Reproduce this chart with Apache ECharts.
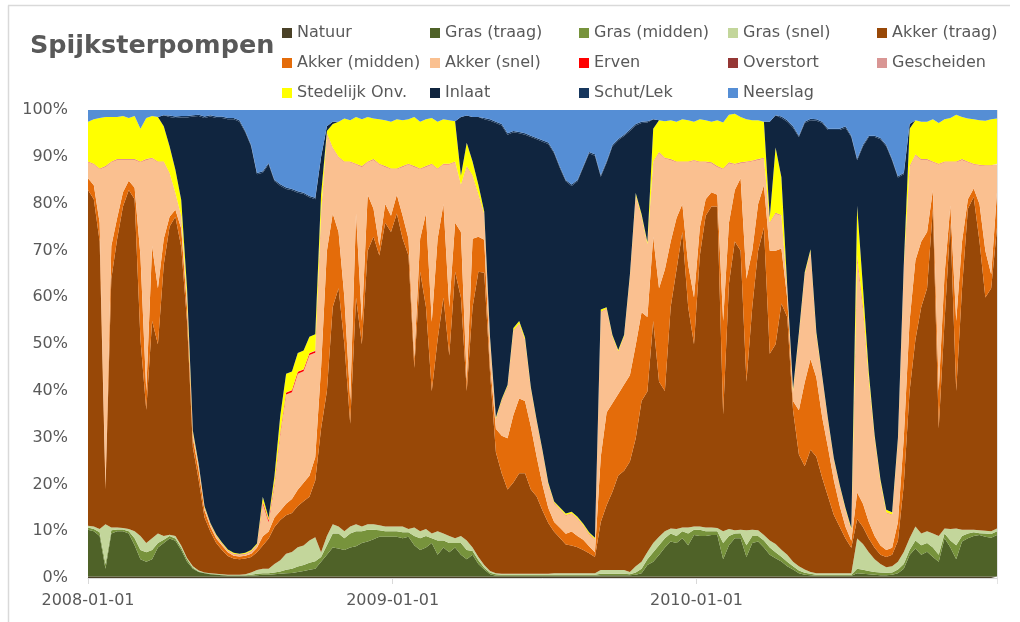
<!DOCTYPE html>
<html>
<head>
<meta charset="utf-8">
<title>Spijksterpompen</title>
<script src="https://cdn.jsdelivr.net/npm/echarts@6/dist/echarts.min.js"></script>
<style>
  html, body { margin: 0; padding: 0; background: #ffffff; }
  #chart { width: 1020px; height: 622px; }
</style>
</head>
<body>
<div id="chart"></div>
<script>
// Weekly shares of the pumped water per origin (percent of total), from 2008-01-01.
const startDate = '2008-01-01';
const stepDays = 7;

const natuur = [
  0.3, 0.3, 0.3, 0.3, 0.3, 0.3, 0.3, 0.3, 0.3, 0.3,
  0.3, 0.3, 0.3, 0.3, 0.3, 0.3, 0.3, 0.3, 0.3, 0.3,
  0.3, 0.3, 0.3, 0.3, 0.3, 0.3, 0.3, 0.3, 0.3, 0.3,
  0.3, 0.3, 0.3, 0.3, 0.3, 0.3, 0.3, 0.3, 0.3, 0.3,
  0.3, 0.3, 0.3, 0.3, 0.3, 0.3, 0.3, 0.3, 0.3, 0.3,
  0.3, 0.3, 0.3, 0.3, 0.3, 0.3, 0.3, 0.3, 0.3, 0.3,
  0.3, 0.3, 0.3, 0.3, 0.3, 0.3, 0.3, 0.3, 0.3, 0.3,
  0.3, 0.3, 0.3, 0.3, 0.3, 0.3, 0.3, 0.3, 0.3, 0.3,
  0.3, 0.3, 0.3, 0.3, 0.3, 0.3, 0.3, 0.3, 0.3, 0.3,
  0.3, 0.3, 0.3, 0.3, 0.3, 0.3, 0.3, 0.3, 0.3, 0.3,
  0.3, 0.3, 0.3, 0.3, 0.3, 0.3, 0.3, 0.3, 0.3, 0.3,
  0.3, 0.3, 0.3, 0.3, 0.3, 0.3, 0.3, 0.3, 0.3, 0.3,
  0.3, 0.3, 0.3, 0.3, 0.3, 0.3, 0.3, 0.3, 0.3, 0.3,
  0.3, 0.3, 0.3, 0.3, 0.3, 0.3, 0.3, 0.3, 0.3, 0.3,
  0.3, 0.3, 0.3, 0.3, 0.3, 0.3, 0.3, 0.3, 0.3, 0.3,
  0.3, 0.3, 0.3, 0.3, 0.3, 0.3, 0.3
];

const grasTraag = [
  10.0, 9.7, 8.7, 1.7, 9.2, 9.7, 9.7, 9.2, 6.7, 3.7,
  3.2, 3.7, 6.2, 7.2, 8.2, 7.7, 5.7, 3.2, 1.7, 1.0,
  0.7, 0.5, 0.4, 0.3, 0.2, 0.2, 0.2, 0.2, 0.2, 0.3,
  0.4, 0.4, 0.5, 0.6, 0.7, 0.8, 1.0, 1.2, 1.5, 1.7,
  3.2, 4.7, 6.2, 6.0, 5.7, 6.2, 6.5, 7.2, 7.5, 8.0,
  8.5, 8.5, 8.5, 8.5, 8.2, 8.5, 6.7, 5.7, 6.2, 7.2,
  4.7, 6.2, 5.2, 6.2, 4.7, 3.7, 4.7, 2.7, 1.5, 0.5,
  0.2, 0.2, 0.2, 0.2, 0.2, 0.2, 0.2, 0.2, 0.2, 0.2,
  0.2, 0.2, 0.2, 0.2, 0.2, 0.2, 0.2, 0.2, 0.3, 0.3,
  0.3, 0.3, 0.3, 0.3, 0.4, 0.7, 2.5, 3.2, 4.6, 6.2,
  7.5, 7.2, 8.2, 6.7, 8.9, 8.7, 8.7, 8.9, 8.9, 3.7,
  6.7, 8.2, 8.2, 4.2, 7.2, 7.5, 6.2, 4.7, 3.9, 3.2,
  2.2, 1.5, 0.7, 0.4, 0.3, 0.2, 0.2, 0.2, 0.2, 0.2,
  0.2, 0.2, 0.7, 0.6, 0.5, 0.4, 0.3, 0.3, 0.4, 0.7,
  1.7, 4.6, 6.0, 4.7, 5.3, 4.2, 3.2, 8.2, 6.2, 3.7,
  7.5, 8.2, 8.7, 8.9, 8.5, 8.3, 8.9
];

const grasMidden = [
  0.5, 0.5, 0.8, 1.0, 0.7, 0.4, 0.4, 0.5, 1.5, 2.0,
  2.0, 2.0, 1.0, 0.7, 0.5, 0.5, 0.5, 0.5, 0.2, 0.1,
  0.1, 0.1, 0.1, 0.1, 0.1, 0.1, 0.1, 0.1, 0.2, 0.3,
  0.3, 0.3, 0.4, 0.5, 0.8, 0.9, 1.2, 1.3, 1.5, 1.6,
  1.0, 2.0, 3.0, 3.2, 2.5, 3.0, 3.2, 2.5, 2.5, 2.0,
  1.4, 1.2, 1.2, 1.2, 1.3, 1.0, 2.0, 2.5, 2.5, 1.0,
  3.0, 1.5, 2.0, 1.0, 2.5, 2.0, 0.8, 0.8, 0.4, 0.3,
  0.3, 0.2, 0.2, 0.2, 0.2, 0.2, 0.2, 0.2, 0.2, 0.2,
  0.2, 0.2, 0.2, 0.2, 0.2, 0.2, 0.2, 0.2, 0.3, 0.3,
  0.3, 0.3, 0.3, 0.2, 0.5, 1.0, 1.2, 2.0, 2.1, 2.0,
  1.7, 1.5, 1.5, 2.5, 1.1, 1.3, 1.0, 0.8, 0.8, 3.5,
  2.0, 1.0, 1.1, 2.5, 1.5, 1.2, 1.5, 1.5, 1.3, 1.0,
  1.0, 0.7, 0.6, 0.4, 0.3, 0.2, 0.2, 0.2, 0.2, 0.2,
  0.2, 0.2, 1.0, 0.9, 0.7, 0.6, 0.6, 0.5, 0.5, 0.8,
  1.0, 1.1, 1.7, 2.0, 1.9, 2.0, 1.5, 1.0, 1.5, 3.0,
  1.2, 1.0, 0.8, 0.4, 0.7, 0.8, 0.8
];

const grasSnel = [
  0.4, 0.5, 0.7, 8.5, 0.6, 0.4, 0.3, 0.5, 1.5, 3.0,
  2.0, 2.5, 2.0, 0.8, 0.3, 0.5, 0.5, 0.3, 0.3, 0.2,
  0.1, 0.1, 0.1, 0.1, 0.1, 0.1, 0.1, 0.2, 0.5, 0.8,
  1.0, 1.0, 1.8, 2.4, 3.4, 3.6, 4.1, 4.2, 4.8, 5.2,
  1.0, 2.0, 2.0, 1.5, 1.5, 1.5, 1.5, 1.0, 1.2, 1.2,
  1.1, 1.0, 1.0, 1.0, 1.2, 0.7, 1.8, 1.5, 1.5, 1.0,
  2.0, 1.5, 1.5, 1.0, 1.5, 2.0, 0.7, 0.7, 0.6, 0.4,
  0.2, 0.2, 0.2, 0.2, 0.2, 0.2, 0.2, 0.2, 0.2, 0.2,
  0.3, 0.3, 0.3, 0.3, 0.3, 0.3, 0.3, 0.3, 0.8, 0.8,
  0.8, 0.8, 0.8, 0.5, 1.3, 1.5, 1.6, 2.0, 1.8, 1.5,
  1.1, 1.5, 0.8, 1.3, 0.7, 0.7, 0.8, 0.8, 0.7, 2.5,
  1.5, 0.7, 0.7, 3.2, 1.3, 1.2, 1.2, 1.5, 1.8, 1.5,
  1.5, 1.0, 0.9, 0.7, 0.4, 0.3, 0.3, 0.3, 0.3, 0.3,
  0.3, 0.3, 6.5, 5.5, 4.0, 2.7, 1.8, 1.2, 1.3, 1.7,
  2.6, 2.5, 3.0, 2.5, 2.5, 3.0, 4.0, 1.1, 2.5, 3.6,
  1.3, 0.8, 0.5, 0.6, 0.6, 0.6, 0.6
];

const akkerTraag = [
  71.8, 70, 61.5, 7.5, 53.2, 61.7, 68.8, 72.5, 71, 42,
  28.5, 46.5, 40.5, 58, 66.1, 68.5, 64, 50.7, 25.5, 19.4,
  11.8, 9, 6.6, 5.2, 4.0, 3.5, 3.3, 3.4, 3.3, 3.8,
  5, 6.5, 8, 8.7, 8.3, 8.4, 8.9, 9.5, 9.4, 12.2,
  26.5, 31, 46.5, 51, 40, 22, 48.5, 39, 58.5, 61.5,
  57.7, 65, 63, 67, 61.6, 58.5, 34.2, 55.5, 47.5, 30.5,
  41, 50.5, 38.6, 57, 51, 32, 51.5, 61, 62.7, 42.5,
  26, 21.6, 18.1, 19.6, 21.6, 21.6, 18.1, 16.6, 13.6, 10.9,
  8.9, 7.6, 6.2, 6, 5.6, 5, 4.3, 3.5, 10.3, 13.9,
  16.8, 20.3, 21.3, 23.7, 27.5, 34.5, 34.4, 47.5, 33.2, 30,
  47.4, 55.5, 63.2, 47.2, 39, 58, 66.7, 68.7, 68.8, 25,
  52.5, 61.8, 59.7, 31.8, 47.7, 59.8, 65.8, 40, 42.7, 52.3,
  51, 32.5, 24, 22.2, 26.2, 25, 20.5, 16.5, 12.5, 10,
  7.5, 5.5, 4.2, 3.7, 3, 2.5, 2, 2.2, 2.5, 4.5,
  14.4, 31.5, 40, 48.5, 52, 69.5, 23, 44.4, 65.5, 29.4,
  51.7, 68.7, 71.2, 61.8, 49.9, 52, 64.4
];

const akkerMidden = [
  2.5, 3, 4, 1, 7, 4.5, 3, 2, 2.5, 18,
  4, 16, 12, 5.6, 2.1, 1.5, 4, 3, 2, 2,
  1.5, 1, 1, 1, 0.8, 0.6, 0.6, 0.6, 0.7, 1,
  2, 1.5, 2, 2, 2.5, 3, 3.5, 4, 4.5, 5,
  13, 30, 20, 12, 10, 5, 18, 5, 12, 6,
  2, 4, 3.5, 4, 4.9, 3.6, 2, 7.1, 20, 14.8,
  21.6, 20, 10.4, 10.5, 14, 2, 14.6, 7.5, 7.1, 2,
  5, 8, 11, 14.5, 16, 15.5, 13.5, 8.5, 5.5, 3.2,
  2.1, 2.2, 2.3, 3, 2.4, 2.2, 1.5, 1, 14, 19.9,
  19, 17.5, 18.5, 18.5, 20, 19, 16, 18, 20, 26,
  14, 11, 6, 9, 10, 6, 3.5, 3, 2.5, 20,
  13, 11, 15.5, 22, 12, 10, 9, 22, 20, 11.7,
  4, 2, 9.5, 18, 19.5, 17, 13, 10.5, 7.5, 4.5,
  2.5, 1.5, 5.7, 5, 3.5, 2.5, 2, 1.5, 1.5, 4,
  10, 15, 17, 14, 12, 4, 8, 10, 3.7, 15,
  10, 2, 1.8, 8, 10, 3, 7.5
];

const akkerSnel = [
  3.5, 4.5, 11.5, 68, 18, 12.5, 7, 4.5, 6, 20,
  49.5, 18.8, 27, 16.4, 9.3, 3.5, 2.5, 2, 1, 1,
  0.5, 0.5, 0.5, 0.3, 0.3, 0.3, 0.3, 0.3, 0.4, 0.5,
  7, 2, 7, 16.5, 23.5, 23, 25, 24, 26, 22.5,
  33, 25, 14, 16, 29, 51, 10.5, 33, 7, 10.5,
  17.5, 8, 10, 5.5, 10.5, 15.9, 41, 14.9, 10, 33.7,
  14.9, 8.5, 30.5, 13, 10, 46, 13.4, 9, 5.4, 5,
  2, 7.5, 11, 18, 16, 13, 8, 7.5, 7, 5,
  4, 3.9, 3.9, 3.8, 3.7, 3, 2.6, 2.7, 31, 22.2,
  14.2, 9, 10.2, 21.2, 32, 20.5, 15.5, 16, 29, 23.8,
  17.5, 12, 9, 22, 29.3, 14, 8, 6.3, 6, 32.5,
  12.8, 5.5, 3.3, 25, 19.2, 9.5, 5.8, 6, 8, 7,
  2, 2, 16, 23, 23, 9, 8.5, 5.7, 4.3, 4.1,
  3.6, 2.3, 50.6, 42, 30.5, 21, 13.5, 8, 7, 17.5,
  36.5, 33, 22.5, 17.5, 15.5, 6, 48.5, 24, 9.3, 34,
  17.5, 8, 5.2, 8.3, 18.2, 23.2, 6
];

const erven = [
  0.05, 0.05, 0.05, 0.05, 0.05, 0.05, 0.05, 0.05, 0.05, 0.05,
  0.05, 0.05, 0.05, 0.05, 0.05, 0.05, 0.05, 0.05, 0.05, 0.05,
  0.05, 0.05, 0.05, 0.05, 0.05, 0.05, 0.05, 0.05, 0.05, 0.05,
  0.4, 0.4, 0.4, 0.4, 0.4, 0.4, 0.4, 0.4, 0.4, 0.4,
  0.05, 0.05, 0.05, 0.05, 0.05, 0.05, 0.05, 0.05, 0.05, 0.05,
  0.05, 0.05, 0.05, 0.05, 0.05, 0.05, 0.05, 0.05, 0.05, 0.05,
  0.05, 0.05, 0.05, 0.05, 0.05, 0.05, 0.05, 0.05, 0.05, 0.05,
  0.05, 0.05, 0.05, 0.05, 0.05, 0.05, 0.05, 0.05, 0.05, 0.05,
  0.05, 0.05, 0.05, 0.05, 0.05, 0.05, 0.05, 0.05, 0.05, 0.05,
  0.05, 0.05, 0.05, 0.05, 0.05, 0.05, 0.05, 0.05, 0.05, 0.05,
  0.05, 0.05, 0.05, 0.05, 0.05, 0.05, 0.05, 0.05, 0.05, 0.05,
  0.05, 0.05, 0.05, 0.05, 0.05, 0.05, 0.05, 0.05, 0.05, 0.05,
  0.05, 0.05, 0.05, 0.05, 0.05, 0.05, 0.05, 0.05, 0.05, 0.05,
  0.05, 0.05, 0.4, 0.4, 0.05, 0.05, 0.05, 0.05, 0.05, 0.05,
  0.05, 0.05, 0.05, 0.05, 0.05, 0.05, 0.05, 0.05, 0.05, 0.05,
  0.05, 0.05, 0.05, 0.05, 0.05, 0.05, 0.05
];

const overstort = [
  0.02, 0.02, 0.02, 0.02, 0.02, 0.02, 0.02, 0.02, 0.02, 0.02,
  0.02, 0.02, 0.02, 0.02, 0.02, 0.02, 0.02, 0.02, 0.02, 0.02,
  0.02, 0.02, 0.02, 0.02, 0.02, 0.02, 0.02, 0.02, 0.02, 0.02,
  0.02, 0.02, 0.02, 0.02, 0.02, 0.02, 0.02, 0.02, 0.02, 0.02,
  0.02, 0.02, 0.02, 0.02, 0.02, 0.02, 0.02, 0.02, 0.02, 0.02,
  0.02, 0.02, 0.02, 0.02, 0.02, 0.02, 0.02, 0.02, 0.02, 0.02,
  0.02, 0.02, 0.02, 0.02, 0.02, 0.02, 0.02, 0.02, 0.02, 0.02,
  0.02, 0.02, 0.02, 0.02, 0.02, 0.02, 0.02, 0.02, 0.02, 0.02,
  0.02, 0.02, 0.02, 0.02, 0.02, 0.02, 0.02, 0.02, 0.02, 0.02,
  0.02, 0.02, 0.02, 0.02, 0.02, 0.02, 0.02, 0.02, 0.02, 0.02,
  0.02, 0.02, 0.02, 0.02, 0.02, 0.02, 0.02, 0.02, 0.02, 0.02,
  0.02, 0.02, 0.02, 0.02, 0.02, 0.02, 0.02, 0.02, 0.02, 0.02,
  0.02, 0.02, 0.02, 0.02, 0.02, 0.02, 0.02, 0.02, 0.02, 0.02,
  0.02, 0.02, 0.02, 0.02, 0.02, 0.02, 0.02, 0.02, 0.02, 0.02,
  0.02, 0.02, 0.02, 0.02, 0.02, 0.02, 0.02, 0.02, 0.02, 0.02,
  0.02, 0.02, 0.02, 0.02, 0.02, 0.02, 0.02
];

const gescheiden = [
  0.05, 0.05, 0.05, 0.05, 0.05, 0.05, 0.05, 0.05, 0.05, 0.05,
  0.05, 0.05, 0.05, 0.05, 0.05, 0.05, 0.05, 0.05, 0.05, 0.05,
  0.05, 0.05, 0.05, 0.05, 0.05, 0.05, 0.05, 0.05, 0.05, 0.05,
  0.05, 0.05, 0.05, 0.05, 0.05, 0.05, 0.05, 0.05, 0.05, 0.05,
  0.05, 0.05, 0.05, 0.05, 0.05, 0.05, 0.05, 0.05, 0.05, 0.05,
  0.05, 0.05, 0.05, 0.05, 0.05, 0.05, 0.05, 0.05, 0.05, 0.05,
  0.05, 0.05, 0.05, 0.05, 0.05, 0.05, 0.05, 0.05, 0.05, 0.05,
  0.05, 0.05, 0.05, 0.05, 0.05, 0.05, 0.05, 0.05, 0.05, 0.05,
  0.05, 0.05, 0.05, 0.05, 0.05, 0.05, 0.05, 0.05, 0.05, 0.05,
  0.05, 0.05, 0.05, 0.05, 0.05, 0.05, 0.05, 0.05, 0.05, 0.05,
  0.05, 0.05, 0.05, 0.05, 0.05, 0.05, 0.05, 0.05, 0.05, 0.05,
  0.05, 0.05, 0.05, 0.05, 0.05, 0.05, 0.05, 0.05, 0.05, 0.05,
  0.05, 0.05, 0.05, 0.05, 0.05, 0.05, 0.05, 0.05, 0.05, 0.05,
  0.05, 0.05, 0.05, 0.05, 0.05, 0.05, 0.05, 0.05, 0.05, 0.05,
  0.05, 0.05, 0.05, 0.05, 0.05, 0.05, 0.05, 0.05, 0.05, 0.05,
  0.05, 0.05, 0.05, 0.05, 0.05, 0.05, 0.05
];

const stedelijkOnv = [
  8.5, 9.5, 10.8, 10.5, 9.5, 9, 9.2, 8.8, 9.2, 7,
  8.8, 8.9, 9.5, 7.5, 5.7, 5, 3.5, 2, 0.5, 0.3,
  0.3, 0.2, 0.2, 0.2, 0.2, 0.2, 0.2, 0.2, 0.3, 0.3,
  1, 0.5, 1.5, 3.5, 4, 4, 4, 4, 3.5, 3.5,
  4, 0.5, 5, 7.5, 9.2, 8.8, 10, 10, 9.5, 8.7,
  9.5, 9.8, 10, 10.5, 9.8, 9.5, 10.5, 10, 10, 9.8,
  10, 9.5, 9.3, 8.6, 2, 5, 3, 2, 0.5, 0.5,
  0.3, 0.3, 0.3, 0.5, 0.5, 0.5, 0.3, 0.3, 0.3, 0.3,
  0.3, 0.3, 0.3, 0.3, 0.3, 0.3, 0.3, 0.3, 0.5, 0.3,
  0.3, 0.3, 0.3, 0.3, 0.5, 0.5, 0.5, 7, 6.8, 7.8,
  8.3, 8.5, 9, 8.8, 8.2, 9, 8.8, 8.7, 9.8, 9.8,
  10.2, 10.7, 9.7, 9, 8.6, 8.3, 7.7, 1, 14, 8,
  0.5, 0.5, 0.5, 0.5, 0.4, 0.6, 0.3, 0.3, 0.3, 0.3,
  0.3, 0.3, 10.7, 4, 1.5, 0.5, 0.5, 0.5, 0.5, 0.5,
  0.5, 8, 7.3, 8, 8, 9, 8.7, 9, 9.3, 10,
  9, 9.2, 9.5, 9.5, 9.5, 9.8, 9.7
];

const inlaat = [
  0, 0, 0, 0, 0, 0, 0, 0, 0, 0,
  0, 0, 0, 2.4, 6.3, 11.1, 17.7, 36.7, 67.4, 74.7,
  83.3, 87.2, 89.4, 91.1, 92.3, 93, 92.7, 90.2, 86.6, 79.2,
  69.8, 76.1, 63.5, 49.5, 39.8, 39, 34.5, 33.7, 30, 29.1,
  8, 1, 0.5, 0, 0, 0, 0, 0, 0, 0,
  0, 0, 0, 0, 0, 0, 0, 0, 0, 0,
  0, 0, 0, 0, 12.5, 5.8, 9.5, 14.5, 19.8, 46.5,
  63.2, 58.7, 53.7, 42, 40.3, 43.5, 53.7, 60.2, 66.2, 72.7,
  74.7, 72.8, 71.3, 70, 72, 76.5, 81.3, 82, 28.5, 31,
  40.5, 45, 42.7, 30.8, 14.5, 19.5, 25.6, 2, 0, 0,
  0, 0, 0, 0, 0, 0, 0, 0, 0, 0,
  0, 0, 0, 0, 0, 0, 0, 20.5, 6.9, 12.6,
  35.3, 56, 42, 32, 27.7, 45.4, 54.2, 62, 70.4, 76.1,
  81.6, 83.9, 9.8, 30.5, 50.5, 64, 73, 78, 75.5, 55.8,
  19.5, 1, 0, 0, 0, 0, 0, 0, 0, 0,
  0, 0, 0, 0, 0, 0, 0
];

const schutLek = [
  0, 0, 0, 0, 0, 0, 0, 0, 0, 0,
  0, 0, 0, 0, 0.3, 0.3, 0.3, 0.3, 0.3, 0.3,
  0.3, 0.3, 0.3, 0.3, 0.3, 0.3, 0.3, 0.3, 0.3, 0.3,
  0.3, 0.3, 0.3, 0.3, 0.3, 0.3, 0.3, 0.3, 0.3, 0.3,
  0, 0, 0, 0, 0, 0, 0, 0, 0, 0,
  0, 0, 0, 0, 0, 0, 0, 0, 0, 0,
  0, 0, 0, 0, 0, 0, 0, 0, 0.3, 0.3,
  0.3, 0.3, 0.3, 0.3, 0.3, 0.3, 0.3, 0.3, 0.3, 0.3,
  0.3, 0.3, 0.3, 0.3, 0.3, 0.3, 0.3, 0.3, 0.3, 0.3,
  0.3, 0.3, 0.3, 0.3, 0.3, 0.3, 0.3, 0, 0, 0,
  0, 0, 0, 0, 0, 0, 0, 0, 0, 0,
  0, 0, 0, 0, 0, 0, 0, 0, 0, 0.3,
  0.3, 0.3, 0.3, 0.3, 0.3, 0.3, 0.3, 0.3, 0.3, 0.3,
  0.3, 0.3, 0.3, 0.3, 0.3, 0.3, 0.3, 0.3, 0.3, 0.3,
  0.3, 0, 0, 0, 0, 0, 0, 0, 0, 0,
  0, 0, 0, 0, 0, 0, 0
];

const neerslag = [
  2.5, 2, 1.7, 1.5, 1.5, 1.5, 1.3, 1.7, 1.3, 4,
  1.7, 1.3, 1.5, 1.1, 1.2, 1.4, 1.3, 1.3, 1.1, 1,
  1.4, 1.1, 1.4, 1.4, 1.7, 1.7, 2.2, 4.5, 7.5, 13.5,
  13.2, 11.4, 15, 16, 16.7, 17, 17.5, 17.8, 18.5, 18.9,
  10, 3.5, 2.5, 2.5, 1.8, 2.2, 1.5, 2, 1.5, 1.8,
  2, 2.2, 2.5, 2, 2.2, 2, 1.5, 2.5, 2, 1.7,
  2.5, 2, 2.2, 2.4, 1.5, 1.2, 1.5, 1.5, 1.7, 2,
  2.5, 3, 5, 4.5, 4.7, 5, 5.5, 6, 6.5, 7,
  9, 12.2, 15, 16, 15, 12, 9, 9.5, 14, 11,
  7.5, 6.2, 5.3, 4.2, 3, 2.5, 2.4, 2, 2.2, 2.4,
  2.2, 2.5, 2, 2.2, 2.5, 2, 2.2, 2.5, 2.2, 2.7,
  1, 0.8, 1.5, 2, 2.2, 2.2, 2.5, 2.5, 1.1, 1.4,
  2.2, 3.5, 5.5, 2.5, 1.9, 2, 2.5, 4, 4, 4,
  3.5, 5.5, 10.5, 7.5, 5.5, 5.5, 6, 7.5, 10.5, 14.2,
  13.5, 3, 2.2, 2.5, 2.5, 2, 2.8, 2, 1.7, 1,
  1.5, 1.8, 2, 2.2, 2.3, 2, 1.8
];

const seriesNames = [
  'Natuur', 'Gras (traag)', 'Gras (midden)', 'Gras (snel)', 'Akker (traag)',
  'Akker (midden)', 'Akker (snel)', 'Erven', 'Overstort', 'Gescheiden',
  'Stedelijk Onv.', 'Inlaat', 'Schut/Lek', 'Neerslag'
];
const seriesColors = [
  '#4a4127', '#4f6228', '#77933c', '#c3d69b', '#984807',
  '#e46c0a', '#fac090', '#ff0000', '#953735', '#d99694',
  '#ffff00', '#10253f', '#17375e', '#558ed5'
];
const seriesValues = [
  natuur, grasTraag, grasMidden, grasSnel, akkerTraag,
  akkerMidden, akkerSnel, erven, overstort, gescheiden,
  stedelijkOnv, inlaat, schutLek, neerslag
];
const yTicks = [0, 10, 20, 30, 40, 50, 60, 70, 80, 90, 100];

// ---- build the chart ----
const DAY = 86400000;
const t0 = Date.parse(startDate + 'T00:00:00');
const count = natuur.length;
const times = [];
for (let i = 0; i < count; i++) times.push(t0 + i * stepDays * DAY);
// 100% stack: every week is scaled to its own total
const totals = times.map((_, i) => seriesValues.reduce((s, arr) => s + arr[i], 0));

function fmtDate(ts) {
  const d = new Date(ts);
  return d.getFullYear() + '-' + String(d.getMonth() + 1).padStart(2, '0') +
    '-' + String(d.getDate()).padStart(2, '0');
}

const FONT = 'DejaVu Sans';
const TEXT = '#595959';
const legendCols = [282, 430, 579, 728, 877];
const legendRowCenters = [34, 64, 94];

const chart = echarts.init(document.getElementById('chart'), null, { renderer: 'canvas' });
chart.setOption({
  animation: false,
  backgroundColor: '#ffffff',
  title: {
    text: 'Spijksterpompen',
    left: 25, top: 28,
    textStyle: { fontFamily: FONT, fontSize: 25.5, fontWeight: 'bold', color: TEXT }
  },
  legend: seriesNames.map((name, k) => ({
    data: [name],
    left: legendCols[k % 5],
    top: legendRowCenters[Math.floor(k / 5)] - 9,
    padding: 0,
    icon: 'rect',
    itemWidth: 10, itemHeight: 10,
    selectedMode: false,
    textStyle: { fontFamily: FONT, fontSize: 16, color: TEXT }
  })),
  grid: { left: 88, right: 23, top: 110, bottom: 44 },
  xAxis: {
    type: 'time',
    min: times[0], max: times[count - 1],
    minInterval: 365 * DAY,
    maxInterval: 366 * DAY,
    splitLine: { show: false },
    axisLine: { show: true, lineStyle: { color: '#d9d9d9', width: 1 } },
    axisTick: { show: true, length: 6, lineStyle: { color: '#d9d9d9' } },
    axisLabel: {
      formatter: v => fmtDate(v),
      showMaxLabel: false,
      fontFamily: FONT, fontSize: 16, color: TEXT, margin: 15
    }
  },
  yAxis: {
    type: 'value',
    min: yTicks[0], max: yTicks[yTicks.length - 1], interval: 10,
    splitLine: { show: false },
    axisLine: { show: false },
    axisTick: { show: false },
    axisLabel: { formatter: '{value}%', fontFamily: FONT, fontSize: 16, color: TEXT, margin: 20 }
  },
  series: seriesNames.map((name, k) => ({
    name,
    type: 'line',
    stack: 'share',
    symbol: 'none',
    showSymbol: false,
    silent: true,
    lineStyle: { width: 0 },
    itemStyle: { color: seriesColors[k] },
    areaStyle: { color: seriesColors[k], opacity: 1 },
    data: times.map((t, i) => [t, seriesValues[k][i] / totals[i] * 100])
  })),
  graphic: [
    { type: 'line', shape: { x1: 8, y1: 5.5, x2: 1010, y2: 5.5 }, style: { stroke: '#d9d9d9', lineWidth: 1.5 } },
    { type: 'line', shape: { x1: 8.5, y1: 5.5, x2: 8.5, y2: 622 }, style: { stroke: '#d9d9d9', lineWidth: 1.5 } },
    { type: 'line', shape: { x1: 997.5, y1: 110, x2: 997.5, y2: 584 }, style: { stroke: '#e3e3e3', lineWidth: 1 } }
  ]
});
</script>
</body>
</html>
